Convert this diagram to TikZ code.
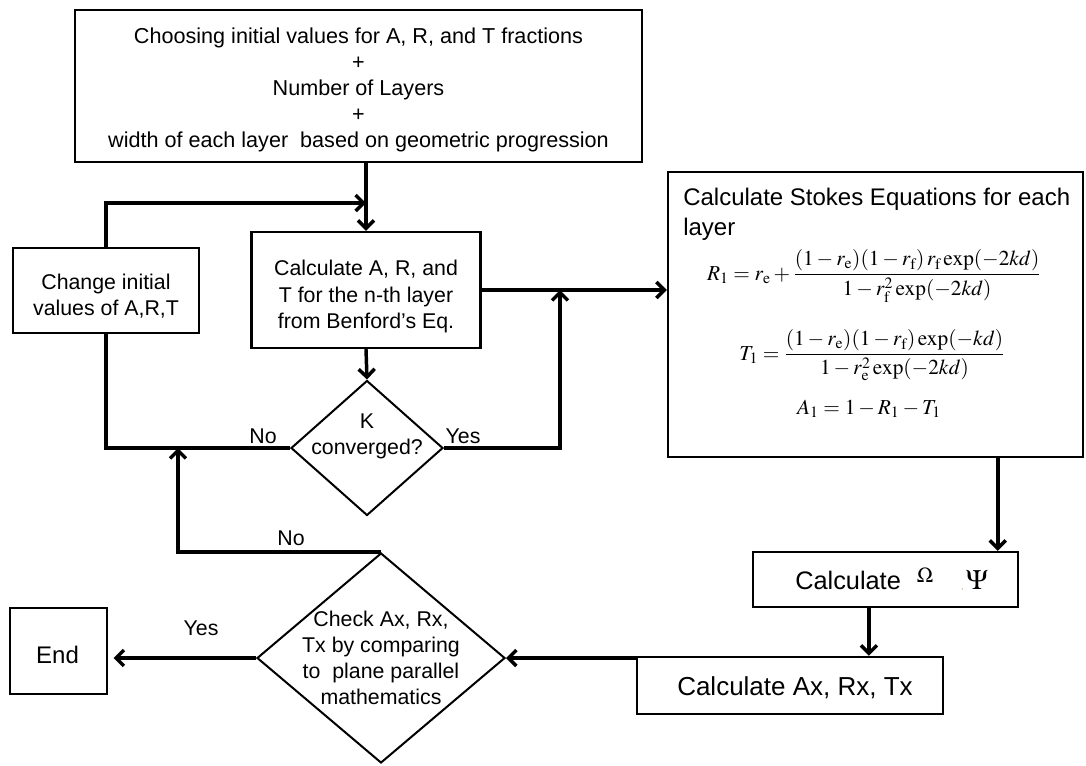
\documentclass[tikz,border=0pt]{standalone}
\usepackage{amsmath}
\usepackage{mathptmx}
\usepackage[no-math]{fontspec}
\setmainfont{Liberation Sans}
\usetikzlibrary{arrows.meta,shapes.geometric,calc}
\begin{document}
\begin{tikzpicture}[x=0.75pt,y=-0.75pt,
  box/.style={draw, line width=1.8pt, inner sep=0pt},
  dia/.style={draw, diamond, line width=1.5pt, inner sep=0pt},
  conn/.style={line width=2.6pt},
  arr/.style={conn, -{Straight Barb[length=6pt,width=12pt]}},
  txt/.style={inner sep=0pt, align=center, font=\fontsize{16}{19.5}\selectfont},
  lbl/.style={inner sep=0pt, font=\fontsize{16}{19}\selectfont},
  eq/.style={inner sep=0pt, font=\fontsize{16}{19}\selectfont},
  ]
\useasboundingbox (0,0) rectangle (1086,765);

% boxes
\node[box, minimum width=567*0.75pt, minimum height=152*0.75pt] (top) at (358.5,86) {};
\node[txt, font=\fontsize{16.2}{19.5}\selectfont] (toptext) at (358.5,90)
  {Choosing initial values for A, R, and T fractions\\+\\Number of Layers\\+\\width of each layer\ \ based on geometric progression};
\node[box, minimum width=186*0.75pt, minimum height=85*0.75pt] (change) at (106,290.5) {};
\node[txt] (changetext) at (106,296) {Change initial\\values of A,R,T};
\node[box, minimum width=229*0.75pt, minimum height=116*0.75pt] (calc) at (366,290) {};
\node[txt, font=\fontsize{16}{20}\selectfont] (calctext) at (366,296.5)
  {Calculate A, R, and\\T for the n-th layer\\from Benford’s Eq.};
\node[dia, minimum width=152*0.75pt, minimum height=135*0.75pt] (k) at (367,448) {};
\node[txt] (ktext) at (367,436) {K\\converged?};
\node[box, minimum width=415*0.75pt, minimum height=285*0.75pt] (stokes) at (875.5,314.5) {};
\node[anchor=north west, inner sep=0pt, align=left, font=\fontsize{18}{22.5}\selectfont] (sth) at (683,188)
  {Calculate Stokes Equations for each\\layer};
\node[eq] (eqR) at (874,276) {$R_1 = r_{\mathrm{e}} + \dfrac{(1-r_{\mathrm{e}})(1-r_{\mathrm{f}})\,r_{\mathrm{f}}\exp(-2kd)}{1-r_{\mathrm{f}}^2\exp(-2kd)}$};
\node[eq] (eqT) at (872,355) {$T_1 = \dfrac{(1-r_{\mathrm{e}})(1-r_{\mathrm{f}})\exp(-kd)}{1-r_{\mathrm{e}}^2\exp(-2kd)}$};
\node[eq] (eqA) at (869,409) {$A_1 = 1 - R_1 - T_1$};
\node[box, minimum width=265*0.75pt, minimum height=55*0.75pt] (omega) at (885.5,579.5) {};
\node[inner sep=0pt, anchor=base west, font=\fontsize{19}{22}\selectfont] (omegatext) at (795,589)
  {Calculate\hspace{12pt}\raisebox{5pt}{\fontsize{16}{16}\selectfont$\Omega$}\hspace{21pt}{\color{orange!70!black}\fontsize{5}{5}\selectfont,}\hspace{2pt}{\fontsize{21}{22}\selectfont$\Psi$}};
\node[box, minimum width=306*0.75pt, minimum height=57*0.75pt] (ax) at (790,685.5) {};
\node[txt, font=\fontsize{19.5}{22}\selectfont] (axtext) at (795,688) {Calculate Ax, Rx, Tx};
\node[dia, minimum width=248*0.75pt, minimum height=210*0.75pt] (check) at (381,658) {};
\node[txt] (checktext) at (381,658) {Check Ax, Rx,\\Tx by comparing\\to\ \ plane parallel\\mathematics};
\node[box, minimum width=97*0.75pt, minimum height=86*0.75pt] (end) at (58.5,651) {};
\node[txt, font=\fontsize{18}{22}\selectfont] (endtext) at (57.5,655) {End};

% connectors
\coordinate (join) at (366,203);
\coordinate (yesup) at (560,290);
\coordinate (kno) at (178,448);
\draw[arr] (top.south -| calc.north) -- (calc.north);
\draw[arr] (change.north) |- (join);
\draw[arr] (calc.south) -- (k.north);
\draw[conn] (k.west) -| (change.south);
\draw[arr] (calc.east) -- (calc.east -| stokes.west);
\draw[arr] (k.east) -| (yesup);
\path ($(stokes.south east)!0.207!(stokes.south west)$) coordinate (s1);
\draw[arr] (s1) -- (s1 |- omega.north);
\path ($(omega.south west)!0.438!(omega.south east)$) coordinate (o1);
\draw[arr] (o1) -- (o1 |- ax.north);
\draw[arr] (ax.north west |- check.east) -- (check.east);
\draw[arr] (check.north) -| (kno);
\draw[arr, shorten >=4pt] (check.west) -- (check.west -| end.east);

% labels
\node[lbl] (lno1) at (263,436) {No};
\node[lbl] (lyes1) at (463,436) {Yes};
\node[lbl] (lno2) at (291,538) {No};
\node[lbl] (lyes2) at (201,628) {Yes};
\end{tikzpicture}
\end{document}
